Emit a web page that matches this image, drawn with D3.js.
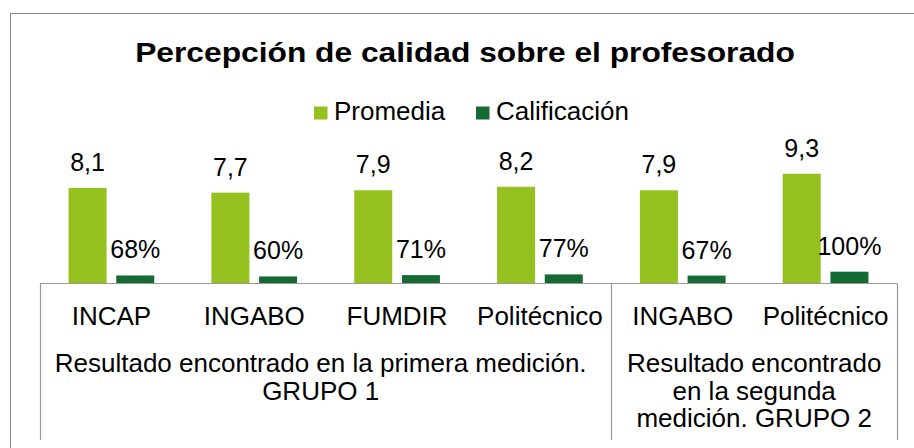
<!DOCTYPE html>
<html>
<head>
<meta charset="utf-8">
<script src="https://cdn.jsdelivr.net/npm/d3@7"></script>
<style>
  html, body { margin: 0; padding: 0; background: #fff; }
  svg { display: block; font-family: "Liberation Sans", Arial, sans-serif; }
</style>
</head>
<body>
<svg id="chart" width="914" height="448"></svg>
<script>
// ---- data ----
const title = "Percepción de calidad sobre el profesorado";
const categories = ["INCAP", "INGABO", "FUMDIR", "Politécnico", "INGABO", "Politécnico"];
const series = ["Promedia", "Calificación"];
const promedia = [8.1, 7.7, 7.9, 8.2, 7.9, 9.3];
const calificacion = [0.68, 0.60, 0.71, 0.77, 0.67, 1.00];
const groups = [
  { lines: ["Resultado encontrado en la primera medición.", "GRUPO 1"], from: 0, to: 3 },
  { lines: ["Resultado encontrado", "en la segunda", "medición. GRUPO 2"], from: 4, to: 5 }
];
const colors = ["#95c11f", "#166b35"];

// ---- layout ----
const svg = d3.select("#chart");
const axisY = 283.5, axisL = 40, axisR = 897;

svg.append("rect").attr("x", 10.5).attr("y", 13.5).attr("width", 1000).attr("height", 1000)
  .attr("fill", "#fff").attr("stroke", "#888888").attr("stroke-width", 1);

const idx = categories.map((d, i) => i);
const x0 = d3.scaleBand().domain(idx).range([axisL, axisR]).paddingInner(0).paddingOuter(0);
const x1 = d3.scaleBand().domain(series).range([0, x0.bandwidth()]).paddingInner(0.203).paddingOuter(0.599);
const y = d3.scaleLinear().domain([0, 10]).range([axisY, axisY - 118]);

// title
const tt = svg.append("text").attr("x", 0).attr("y", 0).attr("text-anchor", "middle")
  .attr("font-size", 28).attr("font-weight", "bold").attr("fill", "#000")
  .text(title);
const tw = tt.node().getComputedTextLength();
tt.attr("transform", `translate(465,62) scale(${660 / tw},1)`);

// legend
const legendX = [314, 476];
series.forEach((s, i) => {
  const g = svg.append("g").attr("transform", `translate(${legendX[i]},0)`);
  g.append("rect").attr("x", 0).attr("y", 106.5).attr("width", 13.5).attr("height", 13)
    .attr("fill", colors[i]);
  g.append("text").attr("x", 20).attr("y", 120).attr("font-size", 26).attr("fill", "#000").text(s);
});

// bars
const data = idx.map(i => ({ i, vals: [promedia[i], calificacion[i]] }));
const fmtDec = v => d3.format(".1f")(v).replace(".", ",");
const fmtPct = v => d3.format(".0%")(v);

const cg = svg.selectAll("g.cat").data(data).enter().append("g")
  .attr("class", "cat").attr("transform", d => `translate(${x0(d.i)},0)`);

cg.selectAll("rect").data(d => d.vals.map((v, k) => ({ k, v }))).enter().append("rect")
  .attr("x", d => x1(series[d.k]))
  .attr("width", x1.bandwidth())
  .attr("y", d => y(d.v))
  .attr("height", d => y(0) - y(d.v))
  .attr("fill", d => colors[d.k]);

cg.selectAll("text").data(d => d.vals.map((v, k) => ({ k, v }))).enter().append("text")
  .attr("x", d => x1(series[d.k]) + x1.bandwidth() / 2)
  .attr("y", d => y(d.v) - 17)
  .attr("text-anchor", "middle")
  .attr("font-size", 25).attr("fill", "#000")
  .text(d => d.k === 0 ? fmtDec(d.v) : fmtPct(d.v));

// category axis
const axisColor = "#999999";
svg.append("line").attr("x1", axisL).attr("x2", axisR).attr("y1", axisY).attr("y2", axisY)
  .attr("stroke", axisColor).attr("stroke-width", 1.2);

const seps = [x0(0), x0(4), x0(5) + x0.bandwidth()];
seps.forEach(sx => {
  svg.append("line").attr("x1", Math.round(sx) + 0.5).attr("x2", Math.round(sx) + 0.5)
    .attr("y1", axisY).attr("y2", 440).attr("stroke", axisColor).attr("stroke-width", 1.2);
});

svg.selectAll("text.catlab").data(idx).enter().append("text").attr("class", "catlab")
  .attr("x", i => x0(i) + x0.bandwidth() / 2).attr("y", 325)
  .attr("text-anchor", "middle").attr("font-size", 26).attr("fill", "#000")
  .text(i => categories[i]);

groups.forEach(g => {
  const cx = (x0(g.from) + x0(g.to) + x0.bandwidth()) / 2;
  g.lines.forEach((ln, k) => {
    svg.append("text").attr("x", cx - (g.from === 0 ? 5 : 0)).attr("y", 372 + k * 27.7)
      .attr("text-anchor", "middle").attr("font-size", 26).attr("fill", "#000").text(ln);
  });
});
</script>
</body>
</html>
